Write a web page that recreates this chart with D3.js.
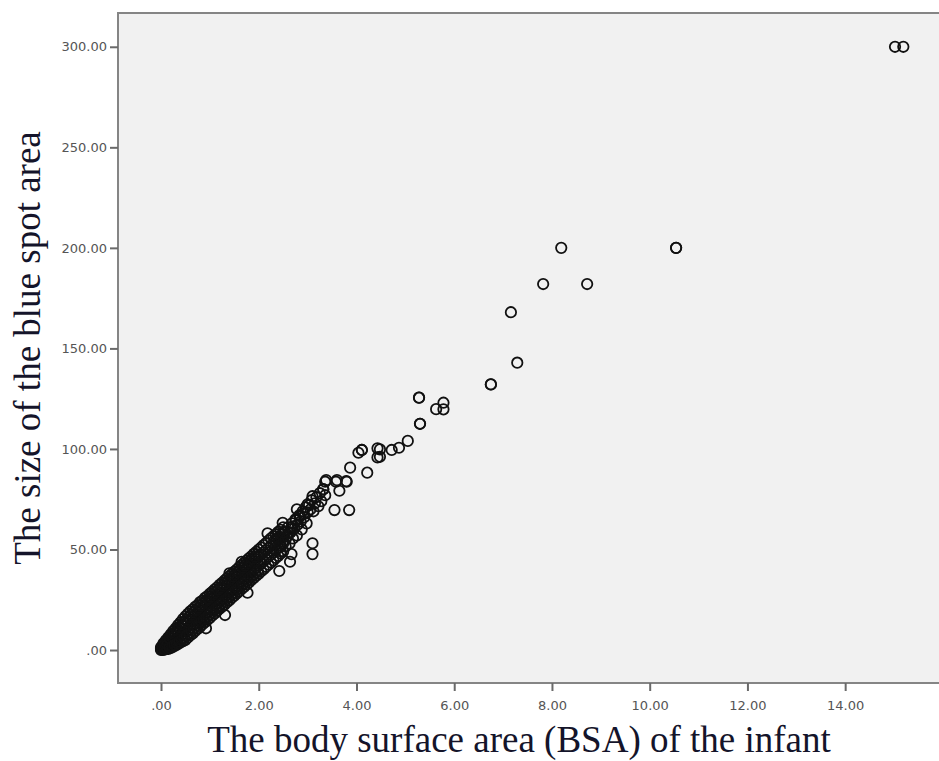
<!doctype html>
<html>
<body>
<style type="text/css">
    html,body{
        margin: 0;
        overflow: hidden;
        background: #fff;
    }
    .tick text {
        font-family: "DejaVu Sans", sans-serif;
        font-size: 13px;
        fill: #555;
    }
    .title {
        font-family: "Liberation Serif", "Times New Roman", serif;
        font-size: 37px;
        fill: #14142a;
    }
</style>
<script src="https://cdn.jsdelivr.net/npm/d3@7/dist/d3.min.js"></script>
<script type="text/javascript">
// tick values
var xTicks = [0, 2, 4, 6, 8, 10, 12, 14];
var yTicks = [0, 50, 100, 150, 200, 250, 300];

// body surface area (BSA) of each infant
var bsa = [
    0.00,0.00,0.00, 0.05,0.05,0.05,0.05, 0.10,0.10,0.10,0.10, 0.15,0.15,0.15,0.15, 0.20,0.20,0.20,0.20, 0.25,0.25,0.25,0.25,
    0.30,0.30,0.30,0.30, 0.35,0.35,0.35,0.35, 0.40,0.40,0.40,0.40, 0.45,0.45,0.45,0.45, 0.50,0.50,0.50,0.50, 0.55,0.55,0.55,0.55,
    0.60,0.60,0.60,0.60, 0.65,0.65,0.65,0.65, 0.70,0.70,0.70,0.70, 0.75,0.75,0.75,0.75, 0.80,0.80,0.80,0.80, 0.85,0.85,0.85,0.85,
    0.90,0.90,0.90,0.90, 0.95,0.95,0.95,0.95, 1.00,1.00,1.00,1.00, 1.05,1.05,1.05,1.05, 1.10,1.10,1.10,1.10, 1.15,1.15,1.15,1.15,
    1.20,1.20,1.20,1.20, 1.25,1.25,1.25,1.25, 1.30,1.30,1.30,1.30, 1.35,1.35,1.35,1.35, 1.40,1.40,1.40,1.40, 1.45,1.45,1.45,1.45,
    1.50,1.50,1.50,1.50, 1.55,1.55,1.55,1.55, 1.60,1.60,1.60,1.60, 1.65,1.65,1.65,1.65, 1.70,1.70,1.70,1.70, 1.75,1.75,1.75,1.75,
    1.80,1.80,1.80,1.80, 1.85,1.85,1.85,1.85, 1.90,1.90,1.90,1.90, 1.95,1.95,1.95,1.95, 2.00,2.00,2.00,2.00, 2.05,2.05,2.05,2.05,
    2.10,2.10,2.10,2.10, 2.15,2.15,2.15,2.15, 2.20,2.20,2.20,2.20, 2.25,2.25,2.25,2.25, 2.30,2.30,2.30,2.30, 2.35,2.35,2.35,2.35,
    2.40,2.40,2.40,2.40, 2.45,2.45,2.45,2.45, 2.50,2.50,2.50,2.50,
    0.025,0.025, 0.075,0.075, 0.125,0.125, 0.175,0.175, 0.225,0.225, 0.275,0.275, 0.325,0.325, 0.375,0.375, 0.425,0.425, 0.475,0.475,
    0.525,0.525, 0.575,0.575, 0.625,0.625, 0.675,0.675, 0.725,0.725, 0.775,0.775, 0.825,0.825, 0.875,0.875, 0.925,0.925, 0.975,0.975,
    1.025,1.025, 1.075,1.075, 1.125,1.125, 1.175,1.175, 1.225,1.225, 1.275,1.275, 1.325,1.325, 1.375,1.375, 1.425,1.425, 1.475,1.475,
    1.525,1.525, 1.575,1.575, 1.625,1.625, 1.675,1.675, 1.725,1.725, 1.775,1.775, 1.825,1.825, 1.875,1.875, 1.925,1.925, 1.975,1.975,
    2.40,2.43,2.45,2.48,2.50,2.53,2.55,2.58,2.60,2.63,2.65,2.68,2.70,2.73,2.75,2.78,2.80,2.83,2.86,2.88,2.90,2.93,2.96,2.98,3.00,3.03,3.06,3.08,3.12,3.15,3.18,3.22,3.25,3.28,3.32,3.36,
    2.55,2.62,2.70,2.76,2.85,2.92,3.00,3.10,2.50,2.66,
    0.92,1.31,1.40,1.65,1.77,2.18,2.42,2.49,2.64,2.67,2.78,3.10,3.10,3.32,3.36,3.38,3.55,3.58,3.60,3.65,3.79,3.80,3.85,3.87,
    4.04,4.11,4.11,4.22,4.43,4.43,4.48,4.48,4.72,4.87,5.05,5.28,5.28,5.30,5.30,5.63,5.78,5.78,
    6.75,6.75,7.16,7.29,7.82,8.19,8.72,10.54,10.54,15.02,15.19
];

// size of the blue spot area
var spot = [
    0.0,0.6,1.4, 0.2,1.0,2.2,3.3, 0.4,1.6,3.0,4.8, 0.6,2.4,4.2,6.3, 1.0,3.2,5.6,7.8, 1.6,4.2,6.8,9.4,
    2.3,5.0,8.2,10.8, 3.0,6.0,9.4,12.4, 3.8,7.0,10.6,13.8, 4.4,8.0,11.8,15.4, 5.0,9.2,13.0,16.8, 6.2,10.0,14.2,18.0,
    7.4,11.2,15.0,19.2, 8.2,12.5,16.5,20.2, 9.5,13.2,17.5,21.5, 10.5,14.5,18.8,22.4, 11.5,15.5,19.8,23.8, 12.8,16.5,21.0,24.6,
    13.8,17.8,22.0,26.0, 15.0,18.8,23.2,26.8, 16.0,20.0,24.0,28.0, 17.2,21.0,25.5,29.0, 18.2,22.2,26.4,30.2, 19.5,23.2,27.5,31.2,
    20.5,24.5,28.6,32.4, 21.5,25.5,29.8,33.4, 22.6,26.5,30.8,34.6, 23.8,27.8,32.0,35.6, 24.8,28.8,33.0,36.8, 26.0,30.0,34.2,37.8,
    27.0,31.0,35.2,39.0, 28.2,32.0,36.4,40.0, 29.2,33.2,37.5,41.2, 30.4,34.2,38.6,42.2, 31.4,35.5,39.6,43.4, 32.5,36.5,40.8,44.5,
    33.6,37.6,42.0,45.6, 34.8,38.8,43.0,46.6, 35.8,39.8,44.2,47.8, 37.0,41.0,45.2,48.8, 38.0,42.0,46.4,50.0, 39.2,43.2,47.4,51.0,
    40.2,44.2,48.6,52.2, 41.4,45.4,49.6,53.2, 42.4,46.4,50.8,54.4, 43.6,47.5,51.8,55.5, 44.6,48.6,53.0,56.6, 45.8,49.8,54.0,57.6,
    46.8,50.8,55.2,58.8, 48.0,52.0,56.2,59.8, 49.0,53.0,57.4,61.0,
    0.0,1.8, 0.3,3.0, 0.8,4.4, 1.2,5.8, 1.8,7.2, 2.6,8.6, 3.4,10.0, 4.2,11.4, 5.0,12.8, 6.0,14.2,
    7.2,15.2, 8.4,16.4, 9.6,17.6, 10.8,18.8, 12.0,19.8, 13.0,21.0, 14.0,22.2, 15.2,23.4, 16.2,24.4, 17.4,25.6,
    18.6,26.6, 19.6,27.8, 20.8,28.8, 21.8,30.0, 23.0,31.0, 24.0,32.2, 25.2,33.2, 26.2,34.4, 27.4,35.4, 28.4,36.6,
    29.6,37.6, 30.6,38.8, 31.8,39.8, 32.8,41.0, 34.0,42.0, 35.0,43.2, 36.2,44.2, 37.2,45.4, 38.4,46.4, 39.4,47.6,
    56.0,52.0,49.0,57.5,54.0,59.0,51.5,56.5,61.0,53.0,58.5,63.0,55.5,60.5,65.0,57.0,62.5,67.0,64.0,60.0,69.0,66.0,71.0,63.0,68.5,72.0,70.0,74.5,69.0,73.0,76.0,71.5,78.0,74.0,80.0,77.0,
    55.0,58.0,61.5,64.5,66.5,68.0,72.5,76.5,58.5,60.0,
    10.8,17.4,38.1,43.9,28.5,58.0,39.3,63.3,43.9,47.7,70.0,53.1,47.7,79.9,83.7,84.5,69.6,83.7,84.5,79.2,84.0,83.7,69.6,90.7,
    98.1,99.5,99.5,88.2,100.3,95.8,99.8,96.1,99.5,100.6,104.0,125.5,125.5,112.5,112.5,119.8,123.0,119.7,
    132.1,132.1,168.0,142.9,182.0,200.0,182.0,200.0,200.0,300.0,300.0
];

(function(){
    var W = 939, H = 761;
    var plotLeft = 118, plotTop = 13, plotBottom = 683;

    var svg = d3.select("body").append("svg")
        .attr("width", W)
        .attr("height", H);

    var x = d3.scaleLinear().domain([-0.88, 15.92]).range([plotLeft, W]);
    var y = d3.scaleLinear().domain([-16.4, 316.8]).range([plotBottom, plotTop]);

    var fmt = function(d){ return d3.format(".2f")(d).replace(/^0\./, "."); };

    svg.append("rect")
        .attr("x", plotLeft).attr("y", plotTop)
        .attr("width", W - plotLeft + 10).attr("height", plotBottom - plotTop)
        .style("fill", "#f1f1f1")
        .style("stroke", "#858585")
        .style("stroke-width", 2);

    var xAxis = svg.append("g")
        .attr("transform", "translate(0," + plotBottom + ")")
        .call(d3.axisBottom(x).tickValues(xTicks).tickFormat(fmt).tickSize(8).tickPadding(10));
    var yAxis = svg.append("g")
        .attr("transform", "translate(" + plotLeft + ",0)")
        .call(d3.axisLeft(y).tickValues(yTicks).tickFormat(fmt).tickSize(8).tickPadding(3));

    [xAxis, yAxis].forEach(function(g){
        g.select(".domain").remove();
        g.selectAll(".tick line").style("stroke", "#6a6a6a").style("stroke-width", 2);
    });

    var pts = d3.zip(bsa, spot);
    svg.append("g").selectAll("circle")
        .data(pts)
        .enter().append("circle")
            .attr("cx", function(d){return x(d[0])})
            .attr("cy", function(d){return y(d[1])})
            .attr("r", 5.2)
            .style("fill", "none")
            .style("stroke", "#111")
            .style("stroke-width", 1.8);

    svg.append("text")
        .attr("class", "title")
        .attr("x", 519).attr("y", 752)
        .attr("text-anchor", "middle")
        .text("The body surface area (BSA) of the infant");

    svg.append("text")
        .attr("class", "title")
        .attr("transform", "translate(40,348) rotate(-90)")
        .attr("text-anchor", "middle")
        .text("The size of the blue spot area");
})();
</script>
</body>
</html>
